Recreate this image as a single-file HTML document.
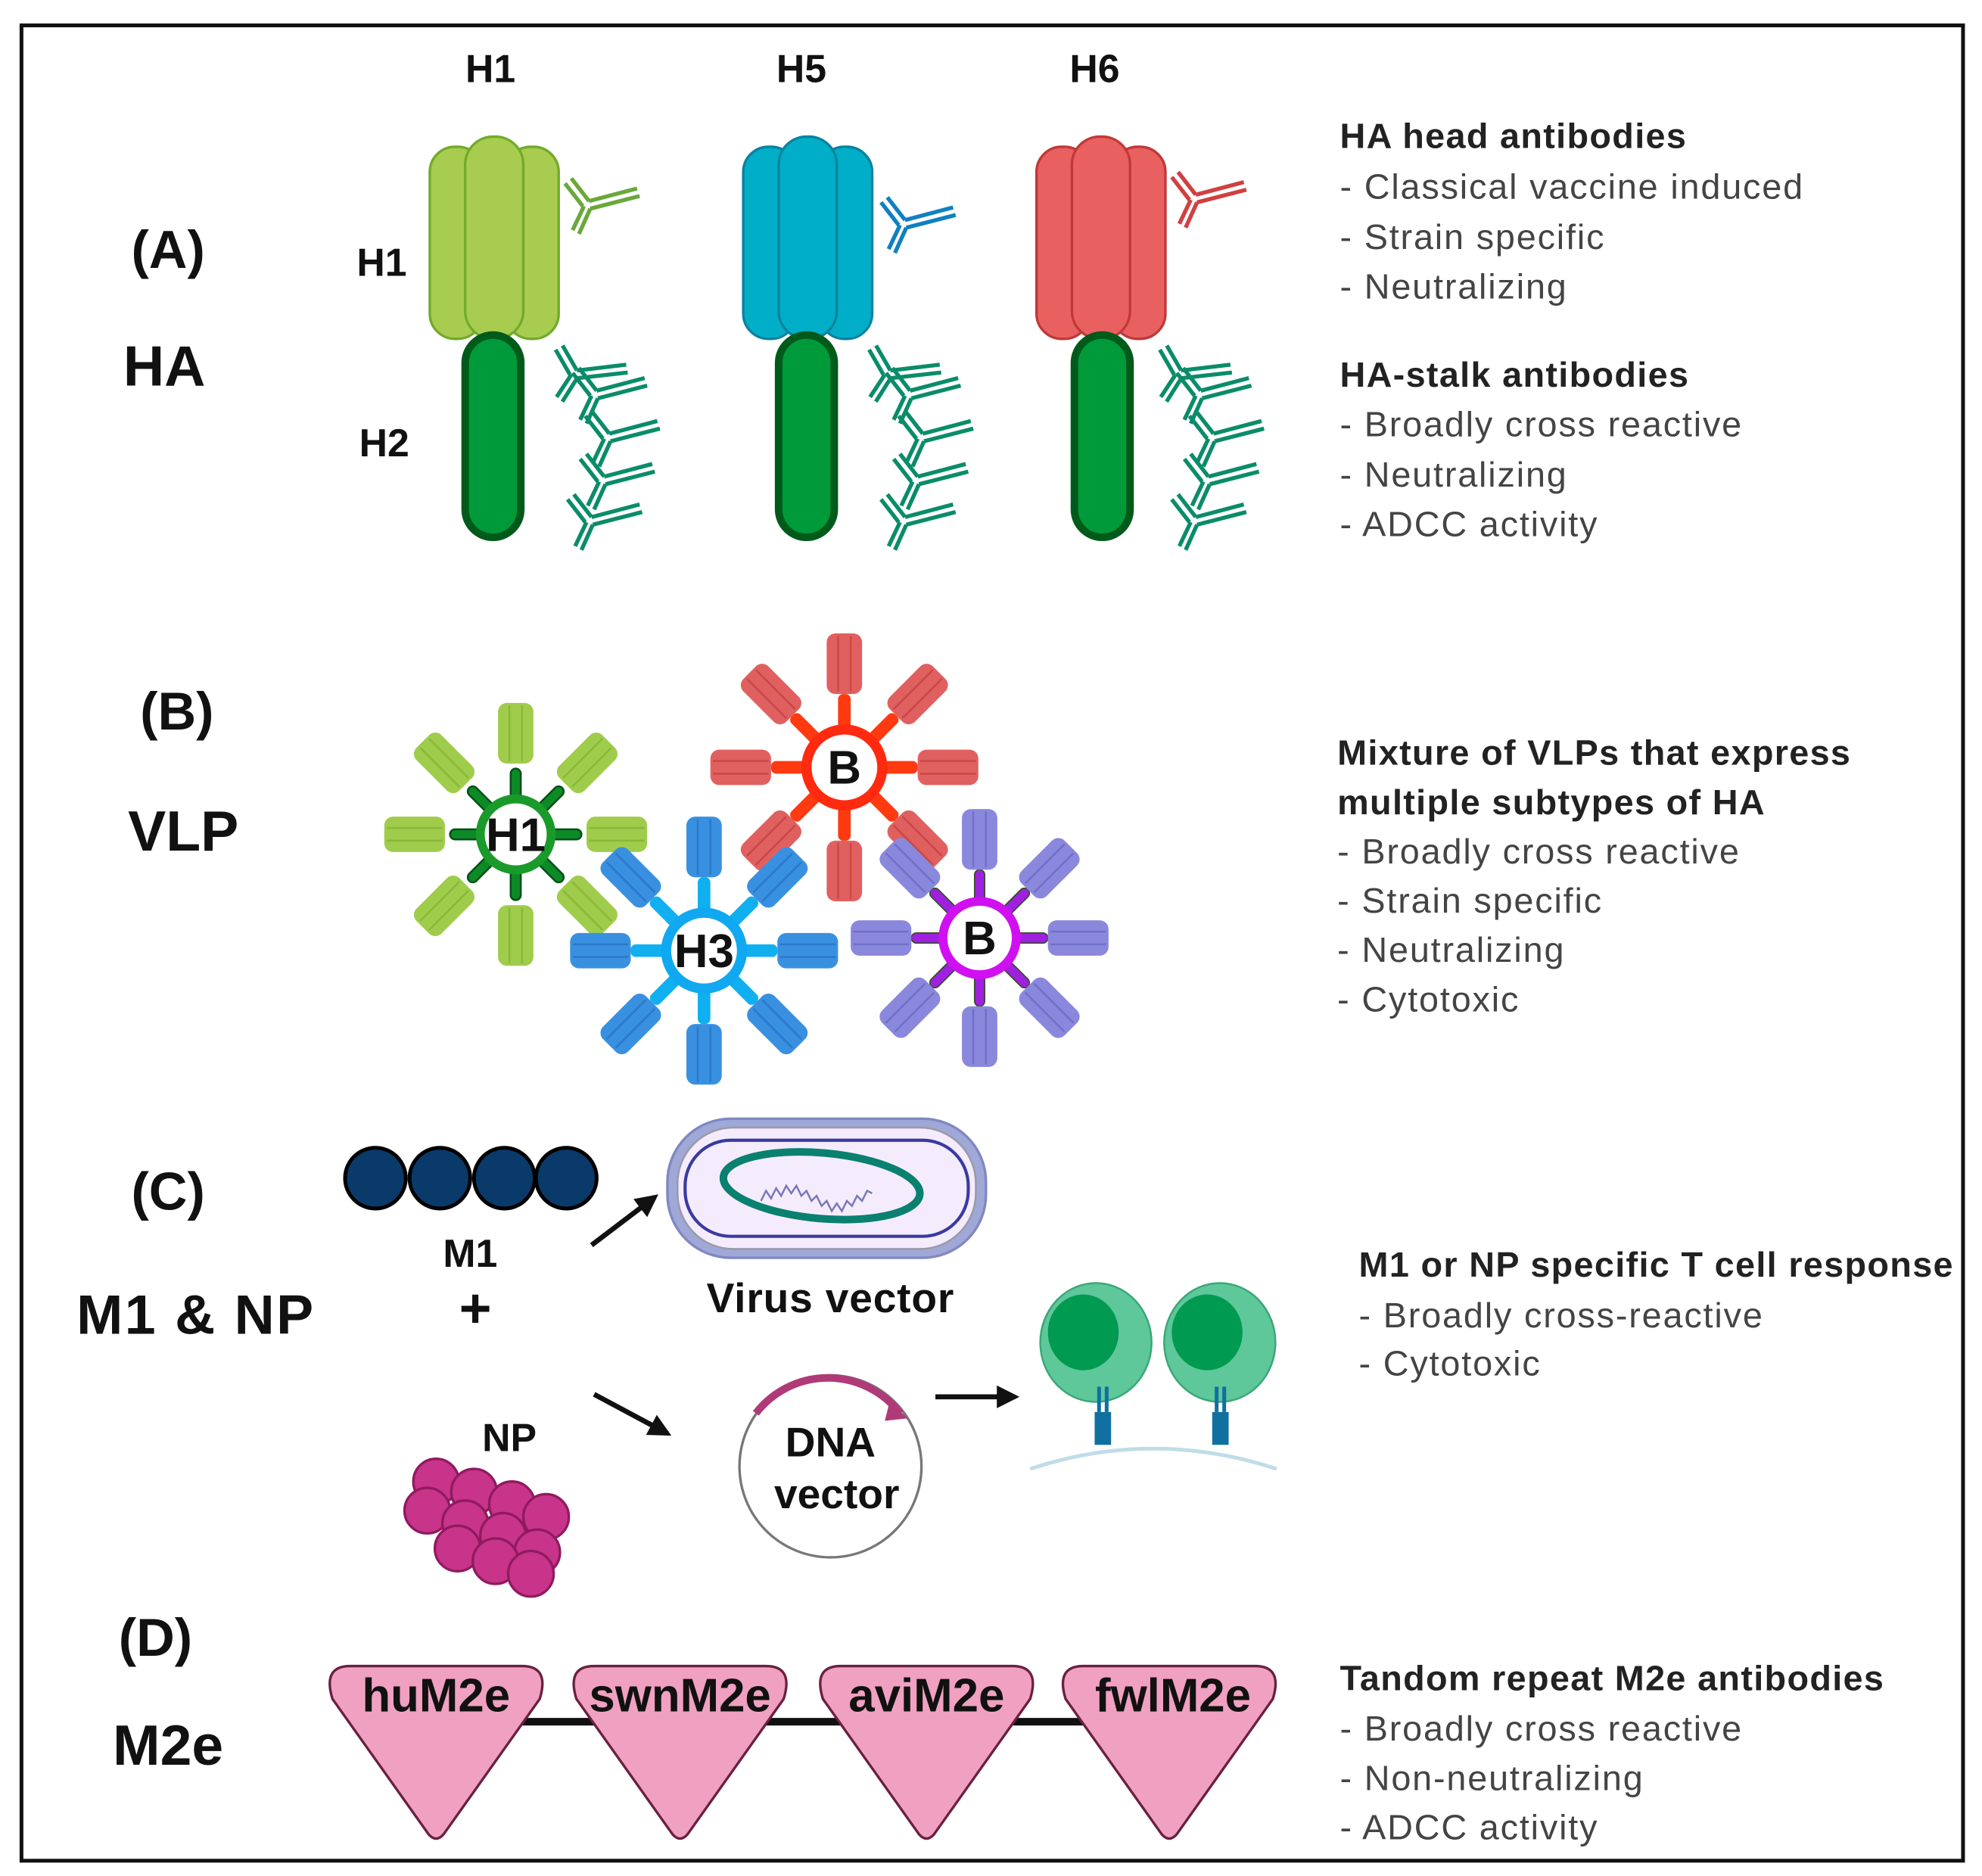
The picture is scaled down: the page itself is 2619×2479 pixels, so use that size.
<!DOCTYPE html>
<html><head><meta charset="utf-8"><style>
html,body{margin:0;padding:0;background:#fff}
svg{display:block}
text{font-family:"Liberation Sans",sans-serif}
.b{font-weight:bold;fill:#111}
.r{fill:#444;font-size:28px;letter-spacing:1.1px}
.h{font-weight:bold;fill:#222;font-size:28px;letter-spacing:0.8px}
</style></head><body>
<svg width="2619" height="2479" viewBox="0 0 1568 1484" xmlns="http://www.w3.org/2000/svg">
<defs>
<g id="ab" fill="none" stroke-width="3.2" stroke-linecap="butt">
  <path d="M0,-3 L38,-13 M1,3 L40,-7"/>
  <path d="M0,-3 L-14,-21 M-5,1 L-19,-17"/>
  <path d="M1,3 L-8,23 M-4,1 L-13,20"/>
</g>
<g id="stalkab" stroke="#0a8c6a"><use href="#ab" x="472" y="312"/><use href="#ab" x="482" y="346"/><use href="#ab" x="478" y="380"/><use href="#ab" x="468" y="412"/><use href="#ab" x="456" y="296" transform="rotate(8 456 296)"/></g>
<g id="head">
  <rect x="0" y="8" width="42" height="152" rx="20"/>
  <rect x="60" y="8" width="42" height="152" rx="20"/>
  <rect x="28" y="0" width="46" height="160" rx="22"/>
</g>
<g id="spG"><rect x="-4" y="-52" width="8" height="26" rx="4" fill="#0c8a25" stroke="#05501a" stroke-width="1.5"/><rect x="-14" y="-104" width="28" height="48" rx="7" fill="#a0cc4c"/><path d="M-5,-102 V-58 M5,-102 V-58" stroke="#88b83a" stroke-width="1.5"/></g>
<g id="spR"><rect x="-5" y="-58" width="10" height="30" rx="4" fill="#ff3a10"/><rect x="-14" y="-106" width="28" height="48" rx="7" fill="#e06060"/><path d="M-5,-104 V-60 M5,-104 V-60" stroke="#c84848" stroke-width="1.5"/></g>
<g id="spB"><rect x="-5" y="-58" width="10" height="30" rx="4" fill="#10b0f0"/><rect x="-14" y="-106" width="28" height="48" rx="7" fill="#3a90e0"/><path d="M-5,-104 V-60 M5,-104 V-60" stroke="#2a78c8" stroke-width="1.5"/></g>
<g id="spP"><rect x="-4" y="-54" width="8" height="26" rx="4" fill="#a020e0" stroke="#305020" stroke-width="1"/><rect x="-14" y="-102" width="28" height="48" rx="7" fill="#8a88dc"/><path d="M-5,-100 V-56 M5,-100 V-56" stroke="#7070c8" stroke-width="1.5"/></g>
<g id="tri"><path d="M-68,0 Q-90,0 -82,26 L-6,133 Q0,140 6,133 L82,26 Q90,0 68,0 Z" fill="#f0a0c0" stroke="#6a2040" stroke-width="2"/></g>
<marker id="ar" viewBox="0 0 10 10" refX="8" refY="5" markerWidth="4.5" markerHeight="4.5" orient="auto"><path d="M0,0 L10,5 L0,10 Z" fill="#111"/></marker>
</defs>
<rect x="0" y="0" width="1568" height="1484" fill="#fff"/>
<rect x="17" y="20" width="1536" height="1452" fill="none" stroke="#111" stroke-width="3"/>

<!-- A -->
<text class="b" x="388" y="65" font-size="31" text-anchor="middle">H1</text>
<text class="b" x="634" y="65" font-size="31" text-anchor="middle">H5</text>
<text class="b" x="866" y="65" font-size="31" text-anchor="middle">H6</text>
<text class="b" x="133" y="212" font-size="42" text-anchor="middle">(A)</text>
<text class="b" x="130" y="305" font-size="45" text-anchor="middle">HA</text>
<text class="b" x="302" y="218" font-size="31" text-anchor="middle">H1</text>
<text class="b" x="304" y="361" font-size="31" text-anchor="middle">H2</text>

<g transform="translate(340,108)" fill="#a8cc50" stroke="#72aa2a" stroke-width="2"><use href="#head"/></g>
<g transform="translate(588,108)" fill="#00aec8" stroke="#0a82a0" stroke-width="2"><use href="#head"/></g>
<g transform="translate(820,108)" fill="#e86060" stroke="#c03838" stroke-width="2"><use href="#head"/></g>
<rect x="368" y="265" width="44" height="160" rx="22" fill="#009a3a" stroke="#005a1a" stroke-width="6"/>
<rect x="616" y="265" width="44" height="160" rx="22" fill="#009a3a" stroke="#005a1a" stroke-width="6"/>
<rect x="850" y="265" width="44" height="160" rx="22" fill="#009a3a" stroke="#005a1a" stroke-width="6"/>
<use href="#ab" x="466" y="162" stroke="#6aa83a"/>
<use href="#ab" x="716" y="177" stroke="#1080c0"/>
<use href="#ab" x="946" y="157" stroke="#d04040"/>
<use href="#stalkab"/>
<use href="#stalkab" x="248"/>
<use href="#stalkab" x="478"/>

<text class="h" x="1060" y="117">HA head antibodies</text>
<text class="r" x="1060" y="157">- Classical vaccine induced</text>
<text class="r" x="1060" y="197">- Strain specific</text>
<text class="r" x="1060" y="236">- Neutralizing</text>
<text class="h" x="1060" y="306">HA-stalk antibodies</text>
<text class="r" x="1060" y="345">-  Broadly cross reactive</text>
<text class="r" x="1060" y="385">-  Neutralizing</text>
<text class="r" x="1060" y="424">-  ADCC activity</text>

<!-- B -->
<text class="b" x="140" y="577" font-size="42" text-anchor="middle">(B)</text>
<text class="b" x="145" y="673" font-size="45" text-anchor="middle">VLP</text>
<g transform="translate(668,607)"><use href="#spR"/><use href="#spR" transform="rotate(45)"/><use href="#spR" transform="rotate(90)"/><use href="#spR" transform="rotate(135)"/><use href="#spR" transform="rotate(180)"/><use href="#spR" transform="rotate(225)"/><use href="#spR" transform="rotate(270)"/><use href="#spR" transform="rotate(315)"/><circle r="30" fill="#fff" stroke="#ff2a10" stroke-width="8"/><text class="b" y="13" font-size="37" text-anchor="middle">B</text></g>
<g transform="translate(408,660)"><use href="#spG"/><use href="#spG" transform="rotate(45)"/><use href="#spG" transform="rotate(90)"/><use href="#spG" transform="rotate(135)"/><use href="#spG" transform="rotate(180)"/><use href="#spG" transform="rotate(225)"/><use href="#spG" transform="rotate(270)"/><use href="#spG" transform="rotate(315)"/><circle r="28" fill="#fff" stroke="#1a9a2a" stroke-width="7"/><text class="b" y="13" font-size="37" text-anchor="middle">H1</text></g>
<g transform="translate(775,742)"><use href="#spP"/><use href="#spP" transform="rotate(45)"/><use href="#spP" transform="rotate(90)"/><use href="#spP" transform="rotate(135)"/><use href="#spP" transform="rotate(180)"/><use href="#spP" transform="rotate(225)"/><use href="#spP" transform="rotate(270)"/><use href="#spP" transform="rotate(315)"/><circle r="29" fill="#fff" stroke="#d010f0" stroke-width="7"/><text class="b" y="13" font-size="37" text-anchor="middle">B</text></g>
<g transform="translate(557,752)"><use href="#spB"/><use href="#spB" transform="rotate(45)"/><use href="#spB" transform="rotate(90)"/><use href="#spB" transform="rotate(135)"/><use href="#spB" transform="rotate(180)"/><use href="#spB" transform="rotate(225)"/><use href="#spB" transform="rotate(270)"/><use href="#spB" transform="rotate(315)"/><circle r="30" fill="#fff" stroke="#10a8f0" stroke-width="8"/><text class="b" y="13" font-size="37" text-anchor="middle">H3</text></g>

<text class="h" x="1058" y="605">Mixture of VLPs that express</text>
<text class="h" x="1058" y="644">multiple subtypes of HA</text>
<text class="r" x="1058" y="683">-  Broadly cross reactive</text>
<text class="r" x="1058" y="722">- Strain specific</text>
<text class="r" x="1058" y="761">-  Neutralizing</text>
<text class="r" x="1058" y="800">-  Cytotoxic</text>

<!-- C -->
<text class="b" x="133" y="957" font-size="42" text-anchor="middle">(C)</text>
<text class="b" x="155" y="1055" font-size="44" letter-spacing="1.5" text-anchor="middle">M1 &amp; NP</text>
<g fill="#0a3a6a" stroke="#000" stroke-width="3"><circle cx="297" cy="932" r="24"/><circle cx="348" cy="932" r="24"/><circle cx="399" cy="932" r="24"/><circle cx="448" cy="932" r="24"/></g>
<text class="b" x="372" y="1002" font-size="31" text-anchor="middle">M1</text>
<text class="b" x="376" y="1050" font-size="44" text-anchor="middle">+</text>
<line x1="468" y1="985" x2="518" y2="947" stroke="#111" stroke-width="4" marker-end="url(#ar)"/>
<rect x="528" y="885" width="252" height="110" rx="50" fill="#a0a8d8" stroke="#8088c0" stroke-width="2"/>
<rect x="536" y="892" width="236" height="96" rx="44" fill="#f4ecfc" stroke="#9a9aa8" stroke-width="1.5"/>
<rect x="542" y="902" width="224" height="76" rx="36" fill="#f4ecfc" stroke="#3a3aa0" stroke-width="2.5"/>
<ellipse cx="650" cy="938" rx="78" ry="26" fill="none" stroke="#0a8070" stroke-width="6" transform="rotate(5 650 938)"/>
<path d="M602,950 l4,-8 4,6 4,-8 4,6 4,-8 4,6 4,-6 4,8 4,-4 4,8 4,-4 4,8 4,-4 4,8 4,-6 4,6 4,-8 4,4 4,-8 4,4 4,-8 4,2" fill="none" stroke="#7a78b8" stroke-width="1.5"/>
<text class="b" x="657" y="1038" font-size="33" letter-spacing="0.5" text-anchor="middle">Virus vector</text>
<text class="b" x="403" y="1148" font-size="31" text-anchor="middle">NP</text>
<g fill="#c8348a" stroke="#901a60" stroke-width="2">
<circle cx="345" cy="1172" r="18"/><circle cx="375" cy="1180" r="18"/><circle cx="405" cy="1190" r="18"/><circle cx="432" cy="1200" r="18"/>
<circle cx="338" cy="1195" r="18"/><circle cx="368" cy="1205" r="18"/><circle cx="398" cy="1215" r="18"/><circle cx="425" cy="1228" r="18"/>
<circle cx="362" cy="1225" r="18"/><circle cx="392" cy="1235" r="18"/><circle cx="420" cy="1245" r="18"/>
</g>
<line x1="470" y1="1103" x2="528" y2="1134" stroke="#111" stroke-width="4" marker-end="url(#ar)"/>
<circle cx="657" cy="1160" r="72" fill="#fff" stroke="#777" stroke-width="2"/>
<path d="M598,1118 A72,72 0 0 1 712,1118" fill="none" stroke="#b03a78" stroke-width="6"/>
<path d="M704,1108 L718,1122 L700,1124 Z" fill="#b03a78"/>
<text class="b" x="657" y="1152" font-size="33" text-anchor="middle">DNA</text>
<text class="b" x="662" y="1193" font-size="33" text-anchor="middle">vector</text>
<line x1="740" y1="1105" x2="803" y2="1105" stroke="#111" stroke-width="4" marker-end="url(#ar)"/>
<path d="M815,1162 Q912,1130 1010,1162" fill="none" stroke="#c0dce8" stroke-width="3"/>
<g><ellipse cx="867" cy="1062" rx="44" ry="47" fill="#5ec89a" stroke="#3aa878" stroke-width="1.5"/><ellipse cx="857" cy="1054" rx="28" ry="30" fill="#009a50"/>
<ellipse cx="965" cy="1062" rx="44" ry="47" fill="#5ec89a" stroke="#3aa878" stroke-width="1.5"/><ellipse cx="955" cy="1054" rx="28" ry="30" fill="#009a50"/></g>
<g fill="#1070a0"><rect x="868" y="1097" width="3" height="20"/><rect x="874" y="1097" width="3" height="20"/><rect x="866" y="1117" width="13" height="26"/>
<rect x="961" y="1097" width="3" height="20"/><rect x="967" y="1097" width="3" height="20"/><rect x="959" y="1117" width="13" height="26"/></g>
<text class="h" x="1075" y="1010">M1 or NP specific T cell response</text>
<text class="r" x="1075" y="1050">- Broadly cross-reactive</text>
<text class="r" x="1075" y="1088">- Cytotoxic</text>

<!-- D -->
<text class="b" x="123" y="1310" font-size="42" text-anchor="middle">(D)</text>
<text class="b" x="133" y="1396" font-size="45" text-anchor="middle">M2e</text>
<line x1="340" y1="1362" x2="920" y2="1362" stroke="#111" stroke-width="6"/>
<use href="#tri" x="345" y="1318"/><use href="#tri" x="538" y="1318"/><use href="#tri" x="733" y="1318"/><use href="#tri" x="925" y="1318"/>
<text class="b" x="345" y="1354" font-size="37" text-anchor="middle">huM2e</text>
<text class="b" x="538" y="1354" font-size="37" text-anchor="middle">swnM2e</text>
<text class="b" x="733" y="1354" font-size="37" text-anchor="middle">aviM2e</text>
<text class="b" x="928" y="1354" font-size="37" text-anchor="middle">fwlM2e</text>
<text class="h" x="1060" y="1337">Tandom repeat M2e antibodies</text>
<text class="r" x="1060" y="1377">-  Broadly cross reactive</text>
<text class="r" x="1060" y="1416">-  Non-neutralizing</text>
<text class="r" x="1060" y="1455">-  ADCC activity</text>
</svg>
</body></html>
